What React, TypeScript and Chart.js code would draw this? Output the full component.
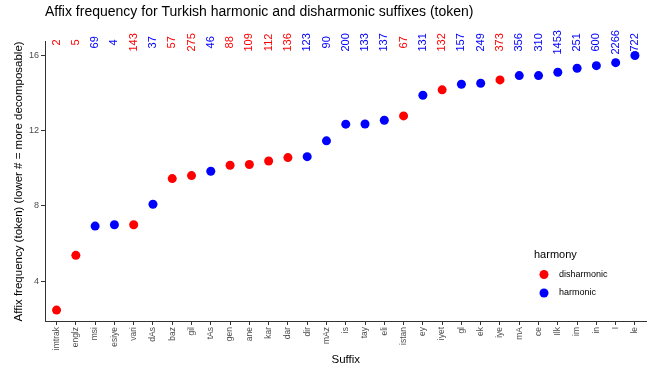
import React, { useEffect, useRef } from "react";
import { Chart, registerables } from "chart.js";

Chart.register(...registerables);

const SUFFIXES = [
  "imtrak", "englz", "msi", "esiye", "vari", "dAs", "baz", "gil", "tAs", "gen",
  "ane", "kar", "dar", "dir", "mAz", "is", "tay", "eli", "istan", "ey",
  "iyet", "gl", "ek", "iye", "mA", "ce", "Ilk", "im", "in", "I", "le",
];

const FREQUENCY = [
  2.45, 5.37, 6.93, 7.0, 7.0, 8.09, 9.46, 9.62, 9.85, 10.17,
  10.21, 10.4, 10.58, 10.63, 11.47, 12.36, 12.37, 12.57, 12.8, 13.9,
  14.19, 14.49, 14.54, 14.72, 14.95, 14.95, 15.13, 15.34, 15.48, 15.64, 16.02,
];

const COUNTS = [
  "2", "5", "69", "4", "143", "37", "57", "275", "46", "88",
  "109", "112", "136", "123", "90", "200", "133", "137", "67", "131",
  "132", "157", "249", "373", "356", "310", "1453", "251", "600", "2266", "722",
];

const HARMONY = [
  "disharmonic", "disharmonic", "harmonic", "harmonic", "disharmonic", "harmonic",
  "disharmonic", "disharmonic", "harmonic", "disharmonic", "disharmonic", "disharmonic",
  "disharmonic", "harmonic", "harmonic", "harmonic", "harmonic", "harmonic",
  "disharmonic", "harmonic", "disharmonic", "harmonic", "harmonic", "disharmonic",
  "harmonic", "harmonic", "harmonic", "harmonic", "harmonic", "harmonic", "harmonic",
];

const HARMONY_LEVELS = ["disharmonic", "harmonic"];
const Y_TICKS = [4, 8, 12, 16];

const TITLE = "Affix frequency for Turkish harmonic and disharmonic suffixes (token)";
const X_TITLE = "Suffix";
const Y_TITLE = "Affix frequency (token) (lower # = more decomposable)";
const LEGEND_TITLE = "harmony";

const COLORS: Record<string, string> = {
  disharmonic: "#FF0000",
  harmonic: "#0000FF",
};

const FONT = '"Liberation Sans", Arial, Helvetica, sans-serif';
const LABEL_Y = 16.72;

const countLabels = {
  id: "countLabels",
  afterDatasetsDraw(chart: any) {
    const { ctx, scales } = chart;
    const xs = scales.x;
    const ys = scales.y;
    ctx.save();
    ctx.font = `11px ${FONT}`;
    ctx.textAlign = "center";
    ctx.textBaseline = "middle";
    COUNTS.forEach((c, i) => {
      const x = xs.getPixelForValue(i);
      const y = ys.getPixelForValue(LABEL_Y);
      ctx.save();
      ctx.translate(x, y);
      ctx.rotate(-Math.PI / 2);
      ctx.fillStyle = COLORS[HARMONY[i]];
      ctx.fillText(c, 0, 0);
      ctx.restore();
    });
    ctx.restore();
  },
};

const harmonyLegend = {
  id: "harmonyLegend",
  afterDraw(chart: any) {
    const { ctx } = chart;
    ctx.save();
    ctx.textAlign = "left";
    ctx.textBaseline = "middle";
    ctx.fillStyle = "#000";
    ctx.font = `11px ${FONT}`;
    ctx.fillText(LEGEND_TITLE, 534, 255);
    HARMONY_LEVELS.forEach((h, k) => {
      const y = 274.5 + k * 18.5;
      ctx.beginPath();
      ctx.arc(544, y, 4.5, 0, Math.PI * 2);
      ctx.fillStyle = COLORS[h];
      ctx.fill();
      ctx.fillStyle = "#000";
      ctx.font = `9px ${FONT}`;
      ctx.fillText(h, 559, y);
    });
    ctx.restore();
  },
};

export default function App() {
  const ref = useRef<HTMLCanvasElement | null>(null);

  useEffect(() => {
    if (!ref.current) return;
    Chart.defaults.font.family = FONT;

    const datasets = HARMONY_LEVELS.map((h) => ({
      label: h,
      data: SUFFIXES.map((_, i) => i)
        .filter((i) => HARMONY[i] === h)
        .map((i) => ({ x: i, y: FREQUENCY[i] })),
      backgroundColor: COLORS[h],
      borderColor: COLORS[h],
      borderWidth: 0,
      pointRadius: 4.5,
      pointHoverRadius: 4.5,
      showLine: false,
    }));

    const chart = new Chart(ref.current, {
      type: "scatter",
      data: { datasets },
      options: {
        animation: false,
        responsive: false,
        maintainAspectRatio: false,
        layout: { padding: { left: 0, right: 3, top: 0, bottom: 0 } },
        plugins: {
          legend: { display: false },
          tooltip: { enabled: false },
          title: {
            display: true,
            text: TITLE,
            align: "start",
            fullSize: false,
            color: "#000",
            font: { family: FONT, size: 14, weight: "normal" as any },
            padding: { top: 4, bottom: 21 },
          },
        },
        scales: {
          x: {
            type: "linear",
            min: -0.6,
            max: SUFFIXES.length - 1 + 0.6,
            afterBuildTicks: (s: any) => {
              s.ticks = SUFFIXES.map((_, i) => ({ value: i }));
            },
            afterFit: (s: any) => {
              s.height = 51;
            },
            ticks: {
              autoSkip: false,
              minRotation: 90,
              maxRotation: 90,
              padding: 2,
              color: "#4D4D4D",
              font: { family: FONT, size: 8.5 },
              callback: (v: any) => SUFFIXES[v] ?? "",
            },
            grid: {
              display: true,
              drawOnChartArea: false,
              drawTicks: true,
              tickLength: 4,
              color: "#333333",
              lineWidth: 1,
            },
            border: { display: true, color: "#333333", width: 1 },
            title: {
              display: true,
              text: X_TITLE,
              color: "#000",
              font: { family: FONT, size: 11.5 },
              padding: { top: 0, bottom: 5 },
            },
          },
          y: {
            type: "linear",
            min: 1.87,
            max: 16.75,
            afterBuildTicks: (s: any) => {
              s.ticks = Y_TICKS.map((v) => ({ value: v }));
            },
            afterFit: (s: any) => {
              s.width = 45;
            },
            ticks: {
              padding: 2,
              color: "#4D4D4D",
              font: { family: FONT, size: 9 },
            },
            grid: {
              display: true,
              drawOnChartArea: false,
              drawTicks: true,
              tickLength: 4,
              color: "#333333",
              lineWidth: 1,
            },
            border: { display: true, color: "#333333", width: 1 },
            title: {
              display: true,
              text: Y_TITLE,
              color: "#000",
              font: { family: FONT, size: 11.5 },
              padding: { top: 12, bottom: 0 },
            },
          },
        },
      },
      plugins: [countLabels, harmonyLegend],
    });

    return () => chart.destroy();
  }, []);

  return (
    <div
      style={{
        position: "fixed",
        left: 0,
        top: 0,
        width: 651,
        height: 372,
        background: "#fff",
      }}
    >
      <canvas ref={ref} width={651} height={372} style={{ display: "block" }} />
    </div>
  );
}
